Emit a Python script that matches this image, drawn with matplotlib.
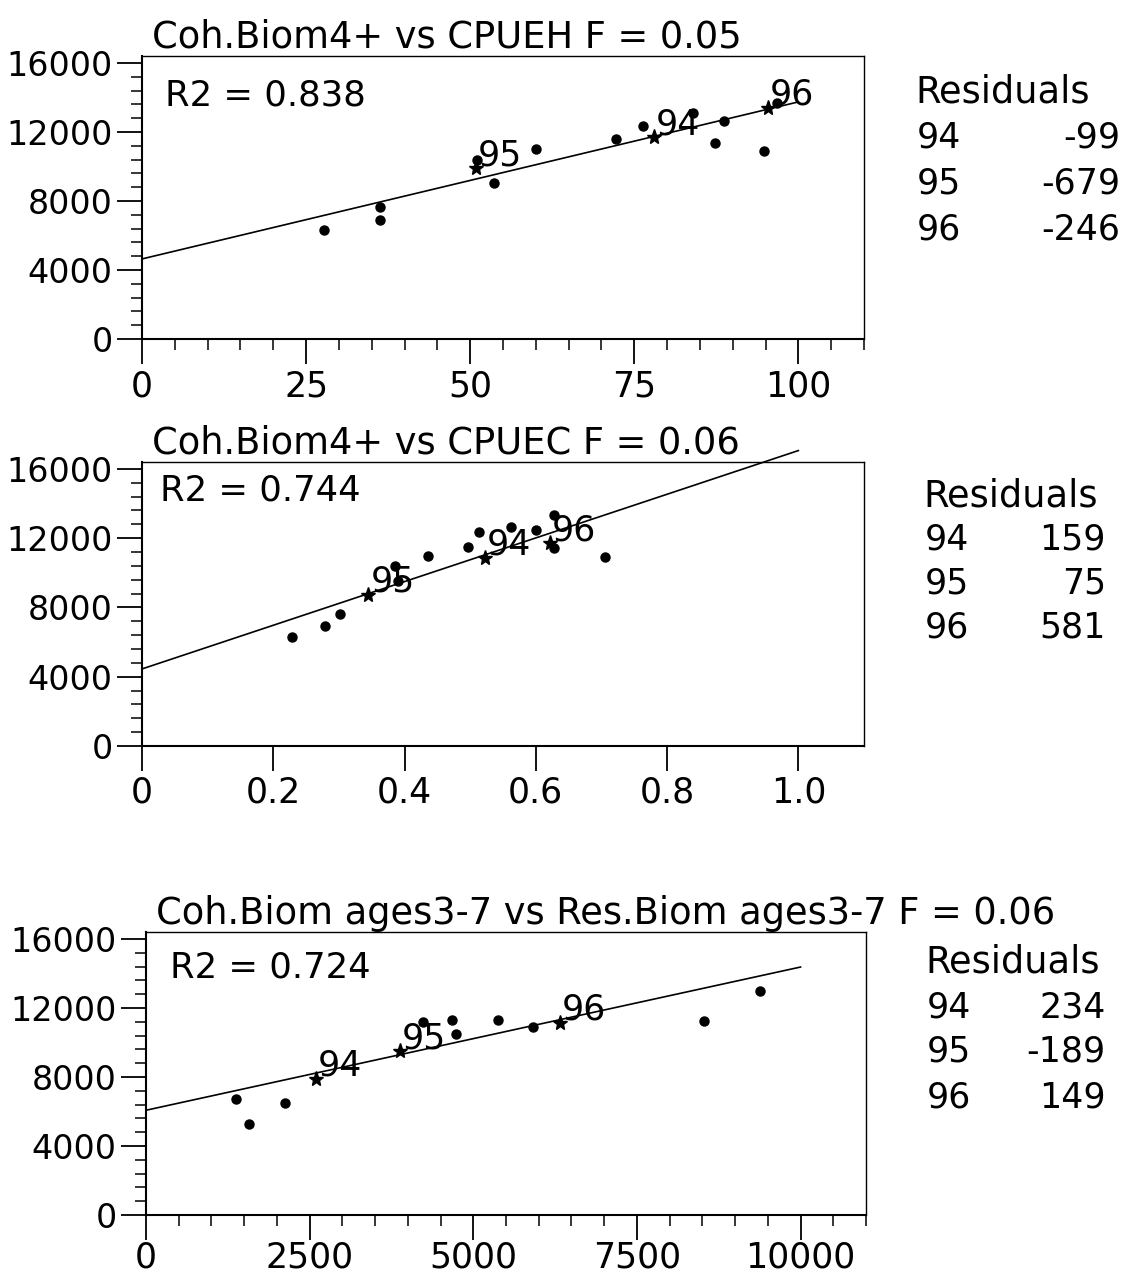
import numpy as np
import matplotlib
matplotlib.use("Agg")
import matplotlib.pyplot as plt
from matplotlib.ticker import MultipleLocator

W, H = 1128, 1276

years = ["94", "95", "96"]

# panel 1: Coh.Biom4+ vs CPUEH
p1_x = [27.8, 36.3, 36.2, 51.1, 53.7, 60.0, 72.2, 76.3, 84.0, 87.3, 88.6, 94.7, 96.8]
p1_y = [6300, 7650, 6900, 10400, 9040, 11010, 11600, 12350, 13100, 11360, 12640, 10900, 13680]
p1_star_x = [78.0, 50.9, 95.4]
p1_star_y = [11700, 9900, 13390]
p1_fit_x = [0, 100]
p1_fit_y = [4640, 13740]
p1_resid = [-99, -679, -246]

# panel 2: Coh.Biom4+ vs CPUEC
p2_x = [0.228, 0.279, 0.302, 0.386, 0.39, 0.435, 0.496, 0.514, 0.562, 0.600, 0.627, 0.627, 0.705]
p2_y = [6310, 6930, 7630, 10400, 9500, 10980, 11510, 12380, 12650, 12480, 13340, 11440, 10940]
p2_star_x = [0.522, 0.345, 0.621]
p2_star_y = [10860, 8720, 11720]
p2_fit_x = [0, 1.0]
p2_fit_y = [4450, 17060]
p2_resid = [159, 75, 581]

# panel 3: Coh.Biom ages3-7 vs Res.Biom ages3-7
p3_x = [1382, 1568, 2130, 4229, 4679, 4733, 5374, 5908, 8519, 9374]
p3_y = [6750, 5250, 6510, 11190, 11290, 10470, 11290, 10900, 11250, 12990]
p3_star_x = [2592, 3875, 6318]
p3_star_y = [7910, 9500, 11150]
p3_fit_x = [0, 10000]
p3_fit_y = [6070, 14370]
p3_resid = [234, -189, 149]

titles = ["Coh.Biom4+ vs CPUEH F = 0.05",
          "Coh.Biom4+ vs CPUEC F = 0.06",
          "Coh.Biom ages3-7 vs Res.Biom ages3-7 F = 0.06"]
r2_text = ["R2 = 0.838", "R2 = 0.744", "R2 = 0.724"]

plt.rcParams["font.family"] = "DejaVu Sans"

fig = plt.figure(figsize=(W / 100, H / 100), dpi=100)


def add_ax(left, top, right, bottom):
    return fig.add_axes([left / W, 1 - bottom / H, (right - left) / W, (bottom - top) / H])


def draw_panel(ax, x, y, sx, sy, fx, fy, title, r2, r2pos, xlim, xmajor, xminor, xfmt, xpad):
    ax.plot(x, y, "o", color="black", markersize=6.5, clip_on=False)
    ax.plot(sx, sy, "*", color="black", markersize=11, clip_on=False)
    ax.plot(fx, fy, color="black", lw=1.2, clip_on=False)
    for lab, a, b in zip(years, sx, sy):
        ax.annotate(lab, (a, b), xytext=(24, 13), textcoords="offset pixels",
                    ha="center", va="center", fontsize=25)
    ax.set_xlim(*xlim)
    ax.set_ylim(0, 16400)
    ax.xaxis.set_major_locator(MultipleLocator(xmajor))
    if xminor:
        ax.xaxis.set_minor_locator(MultipleLocator(xminor))
    ax.set_xticks([t for t in ax.get_xticks() if 0 <= t <= xlim[1]])
    ax.set_xticklabels([xfmt(t) for t in ax.get_xticks()])
    ax.yaxis.set_minor_locator(MultipleLocator(800))
    ax.set_yticks([0, 4000, 8000, 12000, 16000])
    ax.tick_params(axis="both", which="major", direction="out", length=18, width=1.3)
    ax.tick_params(axis="both", which="minor", direction="out", length=8, width=1.1)
    ax.tick_params(axis="y", labelsize=24, pad=3)
    ax.tick_params(axis="x", labelsize=25, pad=xpad)
    for s in ["left", "bottom"]:
        ax.spines[s].set_linewidth(1.5)
    for s in ["top", "right"]:
        ax.spines[s].set_linewidth(1.0)
    ax.text(0.014, 1.0, title, transform=ax.transAxes, fontsize=26.5,
            ha="left", va="bottom", clip_on=False)
    ax.text(r2pos[0], r2pos[1], r2, transform=ax.transAxes, fontsize=25.5,
            ha="left", va="center")


def residuals(left, right, ytop, step, vals):
    fig.text(left / W, 1 - ytop / H, "Residuals", fontsize=26.5, ha="left", va="center")
    for i, (lab, v) in enumerate(zip(years, vals)):
        yy = 1 - (ytop + step * (i + 1)) / H
        fig.text((left + 2) / W, yy, lab, fontsize=25, ha="left", va="center")
        fig.text(right / W, yy, str(v), fontsize=25, ha="right", va="center")


ax1 = add_ax(142, 56, 864, 339)
draw_panel(ax1, p1_x, p1_y, p1_star_x, p1_star_y, p1_fit_x, p1_fit_y, titles[0],
           r2_text[0], (0.032, 0.862), (0, 110), 25, 5, lambda t: "%d" % t, 4)
residuals(915, 1120, 92, 46, p1_resid)

ax2 = add_ax(142, 462, 864, 746)
draw_panel(ax2, p2_x, p2_y, p2_star_x, p2_star_y, p2_fit_x, p2_fit_y, titles[1],
           r2_text[1], (0.025, 0.90), (0, 1.1), 0.2, None,
           lambda t: "0" if t == 0 else "%.1f" % t, 3)
residuals(923, 1106, 496, 44, p2_resid)

ax3 = add_ax(146, 932, 866, 1215)
draw_panel(ax3, p3_x, p3_y, p3_star_x, p3_star_y, p3_fit_x, p3_fit_y, titles[2],
           r2_text[2], (0.033, 0.873), (0, 11000), 2500, 500, lambda t: "%d" % t, 0)
residuals(925, 1106, 962, 45, p3_resid)

fig.savefig("out.png", dpi=100)
